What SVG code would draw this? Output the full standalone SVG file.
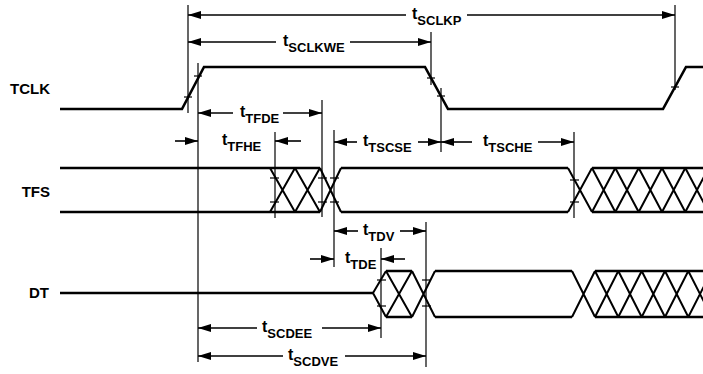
<svg xmlns="http://www.w3.org/2000/svg" width="703" height="374" viewBox="0 0 703 374">
<style>
.sig{fill:none;stroke:#000;stroke-width:2.6;stroke-linejoin:miter}
.x{fill:none;stroke:#000;stroke-width:2}
.ref{stroke:#000;stroke-width:1.2}
.tick{stroke:#000;stroke-width:1.2}
.dim{stroke:#000;stroke-width:1.6}
.s{marker-start:url(#ah)}
.e{marker-end:url(#ah)}
.lbl{font-family:"Liberation Sans",Arial,Helvetica,sans-serif;font-weight:bold;font-size:16px;fill:#000}
.sub{font-size:13px}
.name{font-family:"Liberation Sans",Arial,Helvetica,sans-serif;font-weight:bold;font-size:15px;fill:#000;text-anchor:end}
</style>
<defs>
<marker id="ah" markerUnits="userSpaceOnUse" markerWidth="13" markerHeight="8" refX="13" refY="4" orient="auto-start-reverse" viewBox="0 0 13 8">
<path d="M0,0 L13,4 L0,8 z" fill="#000"/>
</marker>
</defs>
<rect width="703" height="374" fill="#fff"/>

<g id="TCLK">
<text class="name" x="50" y="94">TCLK</text>
<path class="sig" d="M60,109 L182,109 L204,67 L425,67 L448,109 L663,109 L686,67 L703,67"/>
<line class="tick" x1="184" y1="97" x2="192" y2="97"/>
<line class="tick" x1="194" y1="76" x2="202" y2="76"/>
<line class="tick" x1="427" y1="78" x2="435" y2="78"/>
<line class="tick" x1="437" y1="96" x2="445" y2="96"/>
<line class="tick" x1="671" y1="87" x2="679" y2="87"/>
</g>

<g id="TFS">
<text class="name" x="50" y="197">TFS</text>
<path class="sig" d="M60,168 L320,168 M60,212 L320,212 M341,168 L568,168 M341,212 L568,212 M592,168 L703,168 M592,212 L703,212"/>
<path class="x" d="M270,168 L295,212 M270,212 L295,168 M295,168 L320,212 M295,212 L320,168 M320,168 L341,212 M320,212 L341,168 M568,168 L592,212 M568,212 L592,168 M592,168 L615.3,212 M592,212 L615.3,168 M615.3,168 L638.7,212 M615.3,212 L638.7,168 M638.7,168 L662,212 M638.7,212 L662,168 M662,168 L685.3,212 M662,212 L685.3,168 M685.3,168 L708.7,212 M685.3,212 L708.7,168"/>
<line class="tick" x1="270" y1="178" x2="279" y2="178"/>
<line class="tick" x1="270" y1="202" x2="279" y2="202"/>
<line class="tick" x1="318" y1="178" x2="327" y2="178"/>
<line class="tick" x1="318" y1="202" x2="327" y2="202"/>
<line class="tick" x1="330" y1="178" x2="339" y2="178"/>
<line class="tick" x1="330" y1="202" x2="339" y2="202"/>
<line class="tick" x1="570" y1="180" x2="579" y2="180"/>
<line class="tick" x1="570" y1="202" x2="579" y2="202"/>
</g>

<g id="DT">
<text class="name" x="49" y="298">DT</text>
<path class="sig" d="M60,293 L373,293 M386,271 L412,271 M386,317 L412,317 M435,271 L572,271 M435,317 L572,317 M595,271 L703,271 M595,317 L703,317"/>
<path class="x" d="M373,293 L386,271 M373,293 L386,317 M386,271 L412,317 M386,317 L412,271 M412,271 L435,317 M412,317 L435,271 M572,271 L595,317 M572,317 L595,271 M595,271 L618.3,317 M595,317 L618.3,271 M618.3,271 L641.7,317 M618.3,317 L641.7,271 M641.7,271 L665,317 M641.7,317 L665,271 M665,271 L688.3,317 M665,317 L688.3,271 M688.3,271 L711.7,317 M688.3,317 L711.7,271"/>
<line class="tick" x1="377" y1="280" x2="386" y2="280"/>
<line class="tick" x1="377" y1="306" x2="386" y2="306"/>
<line class="tick" x1="422" y1="280" x2="431" y2="280"/>
<line class="tick" x1="422" y1="306" x2="431" y2="306"/>
</g>

<g id="connectors">
<line class="ref" x1="188" y1="5" x2="188" y2="113"/>
<line class="ref" x1="198" y1="63" x2="198" y2="362"/>
<line class="ref" x1="431" y1="32" x2="431" y2="85"/>
<line class="ref" x1="441" y1="88" x2="441" y2="152"/>
<line class="ref" x1="675" y1="5" x2="675" y2="90"/>
<line class="ref" x1="322" y1="100" x2="322" y2="217"/>
<line class="ref" x1="275" y1="132" x2="275" y2="218"/>
<line class="ref" x1="334" y1="130" x2="334" y2="267"/>
<line class="ref" x1="574" y1="132" x2="574" y2="218"/>
<line class="ref" x1="381" y1="248" x2="381" y2="338"/>
<line class="ref" x1="426" y1="222" x2="426" y2="367"/>

<line class="dim s" x1="188" y1="15" x2="406" y2="15"/>
<line class="dim e" x1="467" y1="15" x2="675" y2="15"/>
<line class="dim s" x1="188" y1="42" x2="276" y2="42"/>
<line class="dim e" x1="350" y1="42" x2="431" y2="42"/>
<line class="dim s" x1="198" y1="113" x2="233" y2="113"/>
<line class="dim e" x1="283" y1="113" x2="322" y2="113"/>
<line class="dim e" x1="175" y1="141" x2="198" y2="141"/>
<line class="dim e" x1="301" y1="141" x2="275" y2="141"/>
<line class="dim s" x1="334" y1="142" x2="357" y2="142"/>
<line class="dim e" x1="418" y1="142" x2="441" y2="142"/>
<line class="dim s" x1="441" y1="142" x2="472" y2="142"/>
<line class="dim e" x1="538" y1="142" x2="574" y2="142"/>
<line class="dim s" x1="334" y1="231" x2="358" y2="231"/>
<line class="dim e" x1="400" y1="231" x2="426" y2="231"/>
<line class="dim e" x1="310" y1="259" x2="334" y2="259"/>
<line class="dim e" x1="405" y1="259" x2="381" y2="259"/>
<line class="dim s" x1="198" y1="328" x2="257" y2="328"/>
<line class="dim e" x1="322" y1="328" x2="381" y2="328"/>
<line class="dim s" x1="198" y1="356" x2="283" y2="356"/>
<line class="dim e" x1="345" y1="356" x2="426" y2="356"/>

<text class="lbl" x="412" y="19">t<tspan class="sub" dy="6">SCLKP</tspan></text>
<text class="lbl" x="283" y="46">t<tspan class="sub" dy="6">SCLKWE</tspan></text>
<text class="lbl" x="240" y="117">t<tspan class="sub" dy="6">TFDE</tspan></text>
<text class="lbl" x="222" y="145">t<tspan class="sub" dy="6">TFHE</tspan></text>
<text class="lbl" x="363" y="146">t<tspan class="sub" dy="6">TSCSE</tspan></text>
<text class="lbl" x="483" y="146">t<tspan class="sub" dy="6">TSCHE</tspan></text>
<text class="lbl" x="363" y="235">t<tspan class="sub" dy="6">TDV</tspan></text>
<text class="lbl" x="345" y="263">t<tspan class="sub" dy="6">TDE</tspan></text>
<text class="lbl" x="262" y="332">t<tspan class="sub" dy="6">SCDEE</tspan></text>
<text class="lbl" x="288" y="360">t<tspan class="sub" dy="6">SCDVE</tspan></text>
</g>
</svg>
